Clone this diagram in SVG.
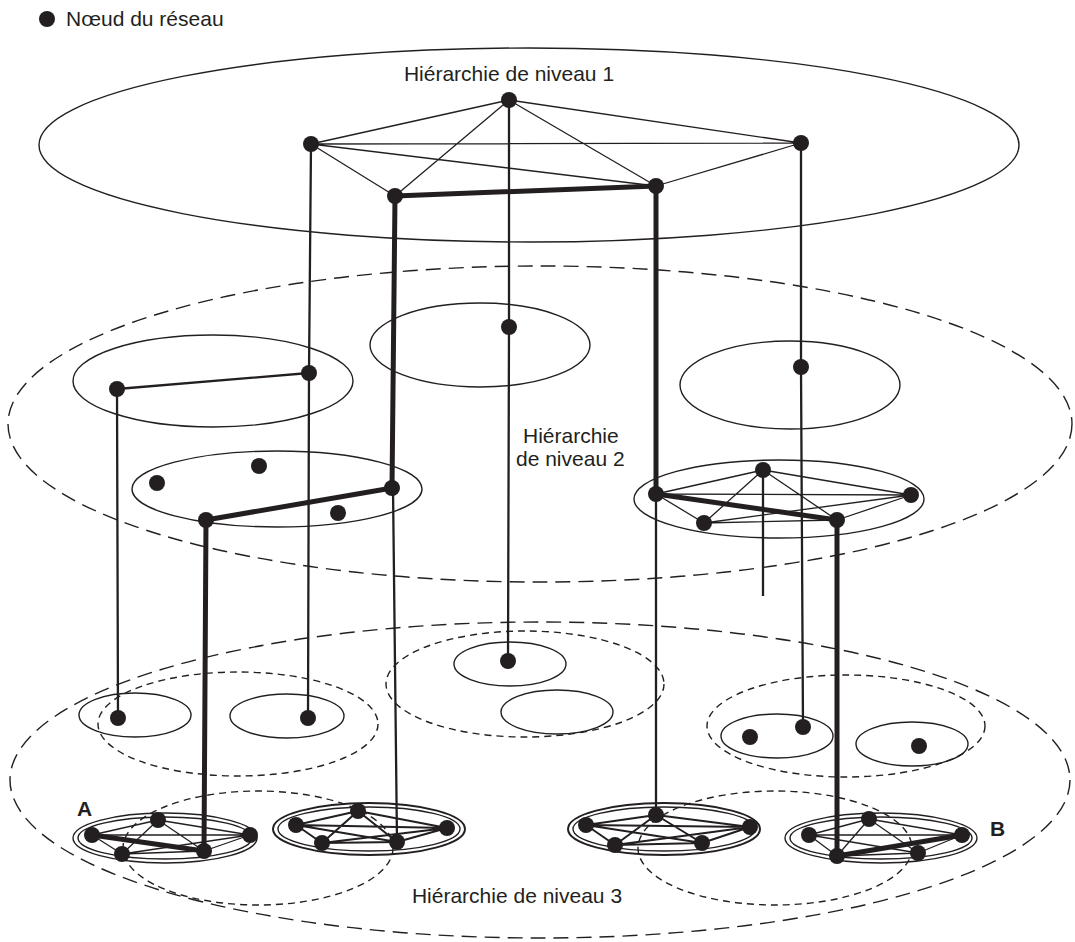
<svg xmlns="http://www.w3.org/2000/svg" width="1075" height="942" viewBox="0 0 1075 942">
<style>
text{font-family:"Liberation Sans",Arial,sans-serif;fill:#231f20}
.lbl{font-size:21px}
.big{font-size:21px;font-weight:bold}
.ell{fill:none;stroke:#231f20;stroke-width:1.4}
.ell2{fill:none;stroke:#231f20;stroke-width:2}
.dl{fill:none;stroke:#231f20;stroke-width:1.4;stroke-dasharray:15 8}
.ds{fill:none;stroke:#231f20;stroke-width:1.4;stroke-dasharray:7 5}
.e{stroke:#231f20;stroke-width:1.3;fill:none}
.e2{stroke:#231f20;stroke-width:2;fill:none}
.v{stroke:#231f20;stroke-width:2.3;fill:none}
.t{stroke:#231f20;stroke-width:5;fill:none;stroke-linejoin:round}
.n{fill:#231f20}
</style>
<rect width="1075" height="942" fill="#fff"/>
<g id="legend">
<circle class="n" cx="47" cy="19" r="8"/>
<text class="lbl" x="66" y="26">Nœud du réseau</text>
</g>
<g id="regions">
<ellipse class="ell" cx="529" cy="145" rx="490" ry="97"/>
<ellipse class="dl" cx="540" cy="424" rx="532" ry="158"/>
<ellipse class="dl" cx="540" cy="780" rx="530" ry="158"/>
<ellipse class="ell" cx="213" cy="381" rx="140" ry="46"/>
<ellipse class="ell" cx="277" cy="489" rx="145" ry="38"/>
<ellipse class="ell" cx="480" cy="345" rx="110" ry="42"/>
<ellipse class="ell" cx="790" cy="385" rx="110" ry="44"/>
<ellipse class="ell" cx="779" cy="499" rx="145" ry="39"/>
<ellipse class="ds" cx="238" cy="724" rx="140" ry="52"/>
<ellipse class="ds" cx="525" cy="684" rx="139" ry="53"/>
<ellipse class="ds" cx="846" cy="726" rx="139" ry="51"/>
<ellipse class="ds" cx="258" cy="848" rx="135" ry="57"/>
<ellipse class="ds" cx="775" cy="848" rx="137" ry="57"/>
<ellipse class="ell" cx="135" cy="715" rx="56" ry="22"/>
<ellipse class="ell" cx="287" cy="716" rx="57" ry="22"/>
<ellipse class="ell" cx="510" cy="664" rx="56" ry="22"/>
<ellipse class="ell" cx="557" cy="712" rx="56" ry="22"/>
<ellipse class="ell" cx="777" cy="736" rx="56" ry="22"/>
<ellipse class="ell" cx="912" cy="744" rx="56" ry="22"/>
<ellipse class="ell" cx="165" cy="838" rx="92" ry="25"/>
<ellipse class="ell" cx="165" cy="838" rx="87" ry="21"/>
<ellipse class="ell2" cx="369" cy="829" rx="96" ry="26"/>
<ellipse class="ell" cx="369" cy="829" rx="91" ry="22"/>
<ellipse class="ell2" cx="664" cy="829" rx="96" ry="26"/>
<ellipse class="ell" cx="664" cy="829" rx="91" ry="22"/>
<ellipse class="ell" cx="881" cy="838" rx="96" ry="25"/>
<ellipse class="ell" cx="881" cy="838" rx="91" ry="21"/>
</g>
<g id="connectors">
<path class="e" d="M509 100L311 144M509 100L801 143M509 100L395 196M509 100L656 186M311 144L801 143M311 144L395 196M311 144L656 186M801 143L656 186"/>
<path class="e" d="M656 494L763 470M656 494L911 495M656 494L704 523M763 470L911 495M763 470L704 523M763 470L837 520M704 523L911 495M704 523L837 520M837 520L911 495"/>
<path class="e" d="M92 835L158 820M92 835L250 835M92 835L122 854M158 820L250 835M158 820L122 854M158 820L204 851M250 835L122 854M250 835L204 851M122 854L204 851"/>
<path class="e2" d="M296 825L358 811M296 825L447 828M296 825L322 843M296 825L397 842M358 811L447 828M358 811L322 843M358 811L397 842M447 828L322 843M447 828L397 842M322 843L397 842"/>
<path class="e2" d="M586 825L656 815M586 825L750 827M586 825L615 845M586 825L702 843M656 815L750 827M656 815L615 845M656 815L702 843M750 827L615 845M750 827L702 843M615 845L702 843"/>
<path class="e" d="M809 835L869 819M809 835L962 835M809 835L837 856M809 835L918 853M869 819L962 835M869 819L837 856M869 819L918 853M962 835L918 853M837 856L918 853"/>
<path class="v" d="M311 144L309 373L308 718M509 100L509 327L508 661M801 143L801 367L803 727M117 389L118 718M117 389L309 373M393 488L397 842M656 494L656 815M763 470L763 596"/>
<path class="t" d="M395 196L656 186M395 196L392 488L206 520L204 851L92 835"/>
<path class="t" d="M656 186L656 494L837 520L837 856L962 835"/>
</g>
<g id="nodes">
<circle class="n" cx="509" cy="100" r="8"/>
<circle class="n" cx="311" cy="144" r="8"/>
<circle class="n" cx="801" cy="143" r="8"/>
<circle class="n" cx="395" cy="196" r="8"/>
<circle class="n" cx="656" cy="186" r="8"/>
<circle class="n" cx="117" cy="389" r="8"/>
<circle class="n" cx="309" cy="373" r="8"/>
<circle class="n" cx="509" cy="327" r="8"/>
<circle class="n" cx="801" cy="367" r="8"/>
<circle class="n" cx="157" cy="483" r="8"/>
<circle class="n" cx="259" cy="466" r="8"/>
<circle class="n" cx="338" cy="513" r="8"/>
<circle class="n" cx="206" cy="520" r="8"/>
<circle class="n" cx="392" cy="488" r="8"/>
<circle class="n" cx="656" cy="494" r="8"/>
<circle class="n" cx="763" cy="470" r="8"/>
<circle class="n" cx="911" cy="495" r="8"/>
<circle class="n" cx="704" cy="523" r="8"/>
<circle class="n" cx="837" cy="520" r="8"/>
<circle class="n" cx="118" cy="718" r="8"/>
<circle class="n" cx="308" cy="718" r="8"/>
<circle class="n" cx="508" cy="661" r="8"/>
<circle class="n" cx="750" cy="737" r="8"/>
<circle class="n" cx="803" cy="727" r="8"/>
<circle class="n" cx="919" cy="746" r="8"/>
<circle class="n" cx="92" cy="835" r="8"/>
<circle class="n" cx="158" cy="820" r="8"/>
<circle class="n" cx="250" cy="835" r="8"/>
<circle class="n" cx="122" cy="854" r="8"/>
<circle class="n" cx="204" cy="851" r="8"/>
<circle class="n" cx="296" cy="825" r="8"/>
<circle class="n" cx="358" cy="811" r="8"/>
<circle class="n" cx="447" cy="828" r="8"/>
<circle class="n" cx="322" cy="843" r="8"/>
<circle class="n" cx="397" cy="842" r="8"/>
<circle class="n" cx="586" cy="825" r="8"/>
<circle class="n" cx="656" cy="815" r="8"/>
<circle class="n" cx="750" cy="827" r="8"/>
<circle class="n" cx="615" cy="845" r="8"/>
<circle class="n" cx="702" cy="843" r="8"/>
<circle class="n" cx="809" cy="835" r="8"/>
<circle class="n" cx="869" cy="819" r="8"/>
<circle class="n" cx="962" cy="835" r="8"/>
<circle class="n" cx="837" cy="856" r="8"/>
<circle class="n" cx="918" cy="853" r="8"/>
</g>
<g id="labels">
<text class="lbl" x="509" y="81" text-anchor="middle">Hiérarchie de niveau 1</text>
<text class="lbl" x="523" y="443">Hiérarchie</text>
<text class="lbl" x="516" y="466">de niveau 2</text>
<text class="lbl" x="517" y="903" text-anchor="middle">Hiérarchie de niveau 3</text>
<text class="big" x="77" y="816">A</text>
<text class="big" x="990" y="836">B</text>
</g>
</svg>
